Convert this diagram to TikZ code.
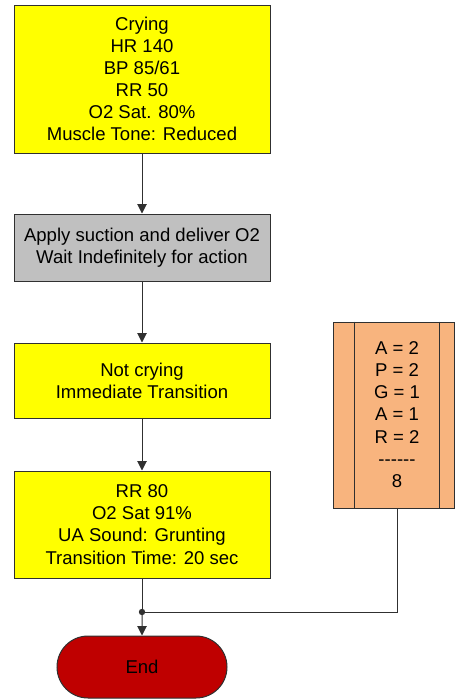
\documentclass[tikz,border=0pt]{standalone}
\usepackage{fontspec}
\setmainfont{Liberation Sans}[Ligatures=NoCommon]
\usetikzlibrary{arrows.meta,shapes.misc}
\definecolor{boxyellow}{HTML}{FFFF00}
\definecolor{boxgray}{HTML}{C0C0C0}
\definecolor{boxpeach}{HTML}{F8B47E}
\definecolor{endred}{HTML}{BF0000}
\definecolor{edgegray}{HTML}{303030}
\begin{document}
\begin{tikzpicture}[x=0.75pt,y=-0.75pt,
  every node/.style={font=\fontsize{13.9pt}{16.6pt}\selectfont, inner sep=0pt, align=center},
  flowbox/.style={draw=edgegray, line width=0.75pt, minimum width=192pt},
  conn/.style={draw=edgegray, line width=0.75pt},
  arr/.style={conn, -{Triangle[length=7pt,width=7pt]}}
]
\useasboundingbox (0,0) rectangle (455,700);
\node[flowbox, fill=boxyellow, minimum height=111pt] (b1) at (142,79)
  {Crying\\HR 140\\BP 85/61\\RR 50\\O2 Sat. 80\%\\Muscle Tone: Reduced};
\node[flowbox, fill=boxgray, minimum height=50.25pt] (b2) at (142,247.5)
  {Apply suction and deliver O2\\Wait Indefinitely for action};
\node[flowbox, fill=boxyellow, minimum height=56.25pt] (b3) at (142,380.5)
  {Not crying\\Immediate Transition};
\node[flowbox, fill=boxyellow, minimum height=80.25pt] (b4) at (142,524.5)
  {RR 80\\O2 Sat 91\%\\UA Sound: Grunting\\Transition Time: 20 sec};
\node[draw=edgegray, line width=0.75pt, fill=endred, rounded rectangle, minimum width=127.5pt, minimum height=46.5pt] (endn) at (142,667) {End};
\node[draw=edgegray, line width=0.75pt, fill=boxpeach, minimum width=90.75pt, minimum height=139.5pt] (rbox) at (393.5,415) {};
\draw[conn] (rbox.north west) ++(22,0) coordinate (rl1) -- (rl1 |- rbox.south);
\draw[conn] (rbox.north east) ++(-15,0) coordinate (rl2) -- (rl2 |- rbox.south);
\node (rtext) at (397,414.5) {A = 2\\P = 2\\G = 1\\A = 1\\R = 2\\{-}{-}{-}{-}{-}{-}\\8};
\coordinate (junc) at (142,612);
\draw[arr] (b1) -- (b2);
\draw[arr] (b2) -- (b3);
\draw[arr] (b3) -- (b4);
\draw[conn] (b4) -- (junc);
\draw[arr] (junc) -- (endn);
\draw[conn] (rtext.center |- rbox.south) -- (rtext.center |- junc) -- (junc);
\fill[edgegray] (junc) circle (3.2);
\end{tikzpicture}
\end{document}
